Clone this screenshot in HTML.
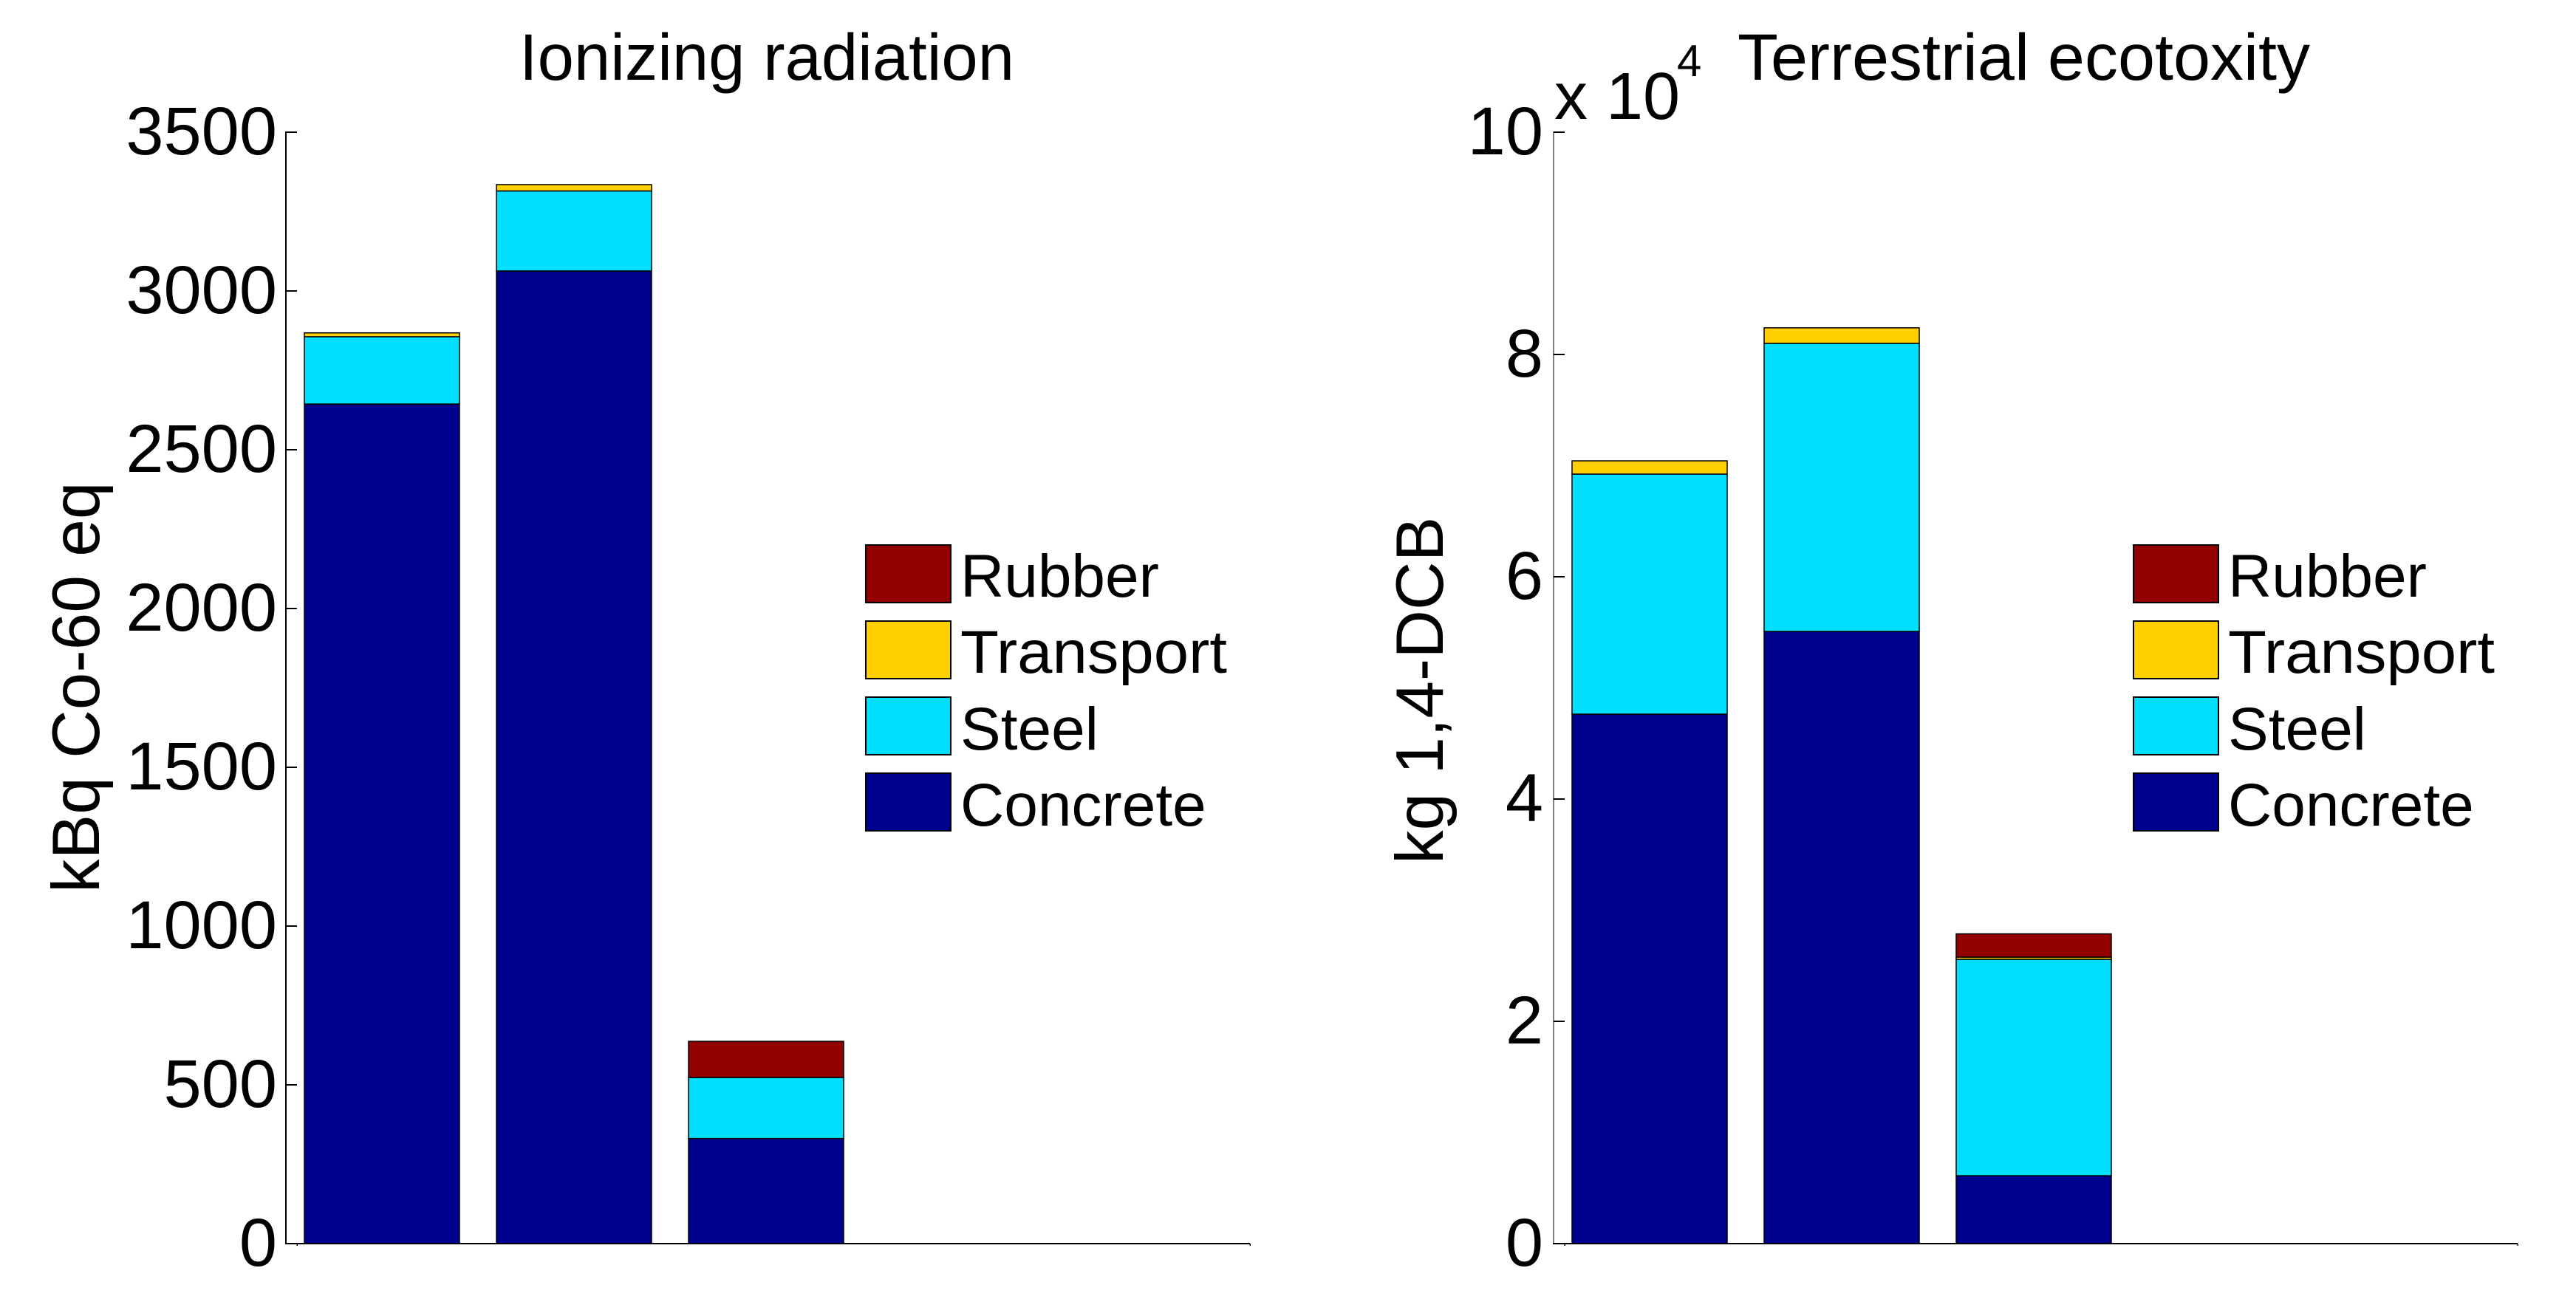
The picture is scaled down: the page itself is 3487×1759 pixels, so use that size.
<!DOCTYPE html>
<html lang="en">
<head>
<meta charset="utf-8">
<title>Ionizing radiation and terrestrial ecotoxity</title>
<style>
html,body{margin:0;padding:0;background:#fff;width:3487px;height:1759px;overflow:hidden}
svg{display:block}
text{font-family:"Liberation Sans",Arial,sans-serif;fill:#000}
</style>
</head>
<body>
<svg id="figure" xmlns="http://www.w3.org/2000/svg" width="3487" height="1759" viewBox="0 0 3487 1759">
  <rect x="0" y="0" width="3487" height="1759" fill="#fff"/>
  <text x="703" y="108" font-size="89" textLength="670" lengthAdjust="spacingAndGlyphs">Ionizing radiation</text>
  <text transform="translate(134 1209) rotate(-90)" font-size="91">kBq Co-60 eq</text>
  <text x="2352" y="108" font-size="89" textLength="775" lengthAdjust="spacingAndGlyphs">Terrestrial ecotoxity</text>
  <text transform="translate(1953 1170) rotate(-90)" font-size="91">kg 1,4-DCB</text>
  <text x="2104" y="161" font-size="90">x 10</text>
  <text x="2270" y="103" font-size="60">4</text>
</svg>
<script>
// Shared categories and series
const seriesNames = ["Concrete", "Steel", "Transport", "Rubber"];
const seriesColors = ["#00008F", "#00DFFF", "#FFCF00", "#930000"];
const barCategories = ["option-1", "option-2", "option-3"];

// Left chart: Ionizing radiation (kBq Co-60 eq)
const ionConcrete = [2644, 3063, 331];
const ionSteel = [212, 252, 192];
const ionTransport = [12, 20, 0];
const ionRubber = [0, 0, 114];
const ionTickValues = [0, 500, 1000, 1500, 2000, 2500, 3000, 3500];
const ionTickLabels = ["0", "500", "1000", "1500", "2000", "2500", "3000", "3500"];
const ionMax = 3500;

// Right chart: Terrestrial ecotoxity (kg 1,4-DCB)
const ecoConcrete = [47640, 55080, 6110];
const ecoSteel = [21600, 25920, 19470];
const ecoTransport = [1190, 1400, 200];
const ecoRubber = [0, 0, 2090];
const ecoTickValues = [0, 20000, 40000, 60000, 80000, 100000];
const ecoTickLabels = ["0", "2", "4", "6", "8", "10"];
const ecoMax = 100000;

const NS = "http://www.w3.org/2000/svg";
const svg = document.getElementById("figure");

function mk(tag, attrs, parent) {
  const el = document.createElementNS(NS, tag);
  for (const k in attrs) el.setAttribute(k, attrs[k]);
  parent.appendChild(el);
  return el;
}

function drawPanel(left, series, tickValues, tickLabels, yMax, axisWidth, labelX) {
  const top = 179, base = 1684, width = 1305;
  const y = v => base - (v / yMax) * (base - top);
  const barCenter = i => left + 130 + i * 260;
  const barWidth = 210;

  const group = mk("g", {}, svg);
  
  

  // stacked bars
  barCategories.forEach((cat, i) => {
    let acc = 0;
    series.forEach((vals, s) => {
      if (vals[i] <= 0) return;
      const y0 = y(acc), y1 = y(acc + vals[i]);
      acc += vals[i];
      const r = mk("rect", {
        x: barCenter(i) - barWidth / 2, y: y1, width: barWidth, height: y0 - y1,
        fill: seriesColors[s], stroke: "#000", "stroke-width": 1.5
      }, group);
      
      
    });
  });

  // axes
  const yAxis = mk("line", {x1: left, y1: top - 1, x2: left, y2: base + 1, stroke: "#000", "stroke-width": axisWidth, "shape-rendering": "crispEdges"}, group);
  
  
  const xAxis = mk("line", {x1: left - 1, y1: base, x2: left + width, y2: base, stroke: "#000", "stroke-width": 2, "shape-rendering": "crispEdges"}, group);
  
  

  // y ticks and labels
  tickValues.forEach((v, i) => {
    const t = mk("line", {x1: left, y1: y(v), x2: left + 15, y2: y(v), stroke: "#000", "stroke-width": 2, "shape-rendering": "crispEdges"}, group);
    
    
    const lab = mk("text", {x: labelX, y: y(v) + 30, "font-size": 92, "text-anchor": "end"}, group);
    
    
    lab.textContent = tickLabels[i];
  });

  // small x ticks
  [left + 15, left + width].forEach(px => {
    const t = mk("line", {x1: px, y1: base, x2: px, y2: base + 3, stroke: "#000", "stroke-width": 1.5, "shape-rendering": "crispEdges"}, group);
    
    
  });

  // legend (top to bottom: Rubber, Transport, Steel, Concrete)
  const patchX = left + 785;
  const textX = left + 913;
  const patchTops = [1047, 944, 841, 738];
  const baselines = [1118, 1015, 911, 808];
  seriesNames.forEach((name, s) => {
    const entry = mk("g", {}, group);
    
    
    const p = mk("rect", {x: patchX, y: patchTops[s], width: 115, height: 78, fill: seriesColors[s], stroke: "#000", "stroke-width": 2, "shape-rendering": "crispEdges"}, entry);
    
    
    const tx = mk("text", {x: textX, y: baselines[s], "font-size": 82}, entry);
    
    
    tx.textContent = name;
    if (name === "Transport") {
      tx.setAttribute("textLength", 361);
      tx.setAttribute("lengthAdjust", "spacingAndGlyphs");
    }
  });
}

drawPanel(387, [ionConcrete, ionSteel, ionTransport, ionRubber], ionTickValues, ionTickLabels, ionMax, 2, 375);
drawPanel(2103, [ecoConcrete, ecoSteel, ecoTransport, ecoRubber], ecoTickValues, ecoTickLabels, ecoMax, 1, 2089);
</script>
</body>
</html>
